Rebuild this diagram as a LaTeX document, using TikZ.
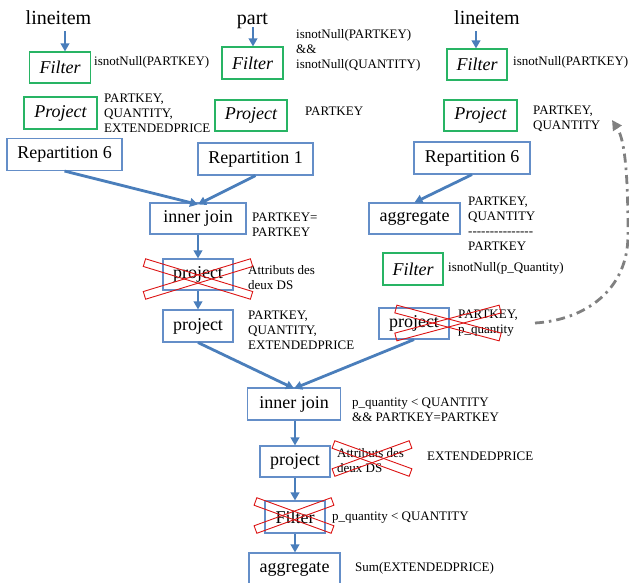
\documentclass[tikz,border=0pt]{standalone}
\usepackage{fontspec}
\setmainfont{Liberation Serif}
\usetikzlibrary{arrows.meta,calc}
\definecolor{arrblue}{RGB}{74,126,187}
\definecolor{boxblue}{RGB}{100,142,200}
\definecolor{boxgreen}{RGB}{40,180,100}
\definecolor{xred}{RGB}{220,20,20}
\definecolor{dgray}{RGB}{128,128,128}
\newcommand\hyph{-\kern0pt}
\begin{document}
\begin{tikzpicture}[x=1pt,y=-1pt,
  bbox/.style={draw=boxblue, line width=1.1pt, inner sep=0pt, font=\fontsize{18}{20}\selectfont},
  gbox/.style={draw=boxgreen, line width=1.1pt, inner sep=0pt, font=\fontsize{18}{20}\selectfont\itshape},
  lbl/.style={anchor=west, inner sep=0pt, align=left, font=\fontsize{13}{15}\selectfont},
  ttl/.style={font=\fontsize{20}{24}\selectfont, inner sep=0pt, anchor=base},
  arr/.style={-{Triangle[length=8pt,width=8.5pt]}, line width=2.8pt, draw=arrblue},
  xband/.style={draw=xred, line width=0.9pt, minimum height=8pt, inner sep=0pt},
  dd/.style={-{Triangle[length=10pt,width=10pt]}, line width=2.8pt, draw=dgray,
             dash pattern=on 9pt off 5pt on 2.5pt off 5pt}
]
\useasboundingbox (0,0) rectangle (629,582);
\clip (0,0) rectangle (629,582);

% titles
\node[ttl] (t1) at (58.5,24) {lineitem};
\node[ttl] (t2) at (252.5,24) {part};
\node[ttl] (t3) at (487,24) {lineitem};

% filters
\node[gbox, minimum width=61pt, minimum height=31pt] (f1) at (60,67.5) {Filter};
\node[gbox, minimum width=61pt, minimum height=32pt] (f2) at (252.5,63) {Filter};
\node[gbox, minimum width=60pt, minimum height=31pt] (f3) at (477,64.5) {Filter};
\node[lbl] (lf1) at (94,62) {isnotNull(PARTKEY)};
\node[lbl] (lf2) at (296,50) {isnotNull(PARTKEY)\\\&\&\\isnotNull(QUANTITY)};
\node[lbl] (lf3) at (513,62) {isnotNull(PARTKEY)};

% projects
\node[gbox, minimum width=73pt, minimum height=32pt] (p1) at (60.5,113) {Project};
\node[gbox, minimum width=72pt, minimum height=31pt] (p2) at (251,115.5) {Project};
\node[gbox, minimum width=73pt, minimum height=31pt] (p3) at (480.5,115.5) {Project};
\node[lbl] (lp1) at (104,113) {PARTKEY,\\QUANTITY,\\EXTENDEDPRICE};
\node[lbl] (lp2) at (305,111) {PARTKEY};
\node[lbl] (lp3) at (533,118.5) {PARTKEY,\\QUANTITY};

% repartitions
\node[bbox, minimum width=115pt, minimum height=32pt] (r1) at (64.5,154.5) {Repartition 6};
\node[bbox, minimum width=115pt, minimum height=32pt] (r2) at (255.5,159) {Repartition 1};
\node[bbox, minimum width=116pt, minimum height=32pt] (r3) at (472,158) {Repartition 6};

% left branch
\node[bbox, minimum width=96pt, minimum height=31pt] (ij1) at (198,218.5) {inner join};
\node[lbl] (lij1) at (252,224.5) {PARTKEY=\\PARTKEY};
\node[bbox, minimum width=70pt, minimum height=31pt] (pj1) at (198,274.5) {project};
\node[lbl] (lpj1) at (248,278) {Attributs des\\deux DS};
\node[bbox, minimum width=70pt, minimum height=32pt] (pj2) at (198,326) {project};
\node[lbl] (lpj2) at (248,330) {PARTKEY,\\QUANTITY,\\EXTENDEDPRICE};

% right branch
\node[bbox, minimum width=91pt, minimum height=31pt] (ag1) at (414.5,218.5) {aggregate};
\node[lbl] (lag1) at (468,224) {PARTKEY,\\QUANTITY\\\hyph\hyph\hyph\hyph\hyph\hyph\hyph\hyph\hyph\hyph\hyph\hyph\hyph\hyph\hyph\\PARTKEY};
\node[gbox, minimum width=60pt, minimum height=32pt] (f4) at (413,269) {Filter};
\node[lbl] (lf4) at (448,268) {isnotNull(p\_Quantity)};
\node[bbox, minimum width=70pt, minimum height=31pt] (pj3) at (414,323.5) {project};
\node[lbl] (lpj3) at (458,323) {PARTKEY,\\p\_quantity};

% bottom
\node[bbox, minimum width=93pt, minimum height=32pt] (ij2) at (294,404) {inner join};
\node[lbl] (lij2) at (352,410) {p\_quantity < QUANTITY\\\&\& PARTKEY=PARTKEY};
\node[bbox, minimum width=70pt, minimum height=31pt] (pj4) at (295,461.5) {project};
\node[lbl] (lpj4) at (337,461) {Attributs des\\deux DS};
\node[lbl] (lpj4b) at (427,456) {EXTENDEDPRICE};
\node[bbox, minimum width=60pt, minimum height=32pt] (f5) at (295,517) {Filter};
\node[lbl] (lf5) at (332,518) {p\_quantity < QUANTITY};
\node[bbox, minimum width=91pt, minimum height=32pt] (ag2) at (294.5,569) {aggregate};
\node[lbl] (lag2) at (355,568) {Sum(EXTENDEDPRICE)};

% red crosses
\node[xband, minimum width=112pt, rotate=17] (x1a) at (198,279) {};
\node[xband, minimum width=112pt, rotate=-17] (x1b) at (198,279) {};
\node[xband, minimum width=108pt, rotate=15] (x2a) at (448,323) {};
\node[xband, minimum width=108pt, rotate=-15] (x2b) at (448,323) {};
\node[xband, minimum width=82pt, rotate=20] (x3a) at (372,458.5) {};
\node[xband, minimum width=82pt, rotate=-20] (x3b) at (372,458.5) {};
\node[xband, minimum width=82pt, rotate=20] (x4a) at (294,515.5) {};
\node[xband, minimum width=82pt, rotate=-20] (x4b) at (294,515.5) {};

% source arrows
\coordinate (s1) at (65,31);
\coordinate (s2) at (253,27);
\coordinate (s3) at (476,31);
\draw[arr] (s1) -- (s1 |- f1.north);
\draw[arr] (s2) -- (s2 |- f2.north);
\draw[arr] (s3) -- (s3 |- f3.north);

% flow arrows
\draw[arr] (r1.south) -- ([yshift=-2pt]ij1.north);
\draw[arr] (r2.south) -- ([yshift=-2pt]ij1.north);
\draw[arr] (ij1.south) -- (pj1.north);
\draw[arr] (pj1.south) -- (pj2.north);
\draw[arr] (r3.south) -- (ag1.north);
\draw[arr] (pj2.south) -- ([yshift=-1pt]ij2.north);
\draw[arr] (pj3.south) -- ([yshift=-1pt]ij2.north);
\draw[arr] (pj4.north |- ij2.south) -- (pj4.north);
\draw[arr] (pj4.south) -- (f5.north);
\draw[arr] (f5.south) -- (f5.south |- ag2.north);

% dash-dot feedback arrow
\coordinate (cs) at (535,323);
\coordinate (ce) at (612,120);
\draw[dd] (cs) .. controls (585,320) and (628,290) .. (628,235)
               .. controls (628,175) and (625,140) .. (ce);
\end{tikzpicture}
\end{document}
